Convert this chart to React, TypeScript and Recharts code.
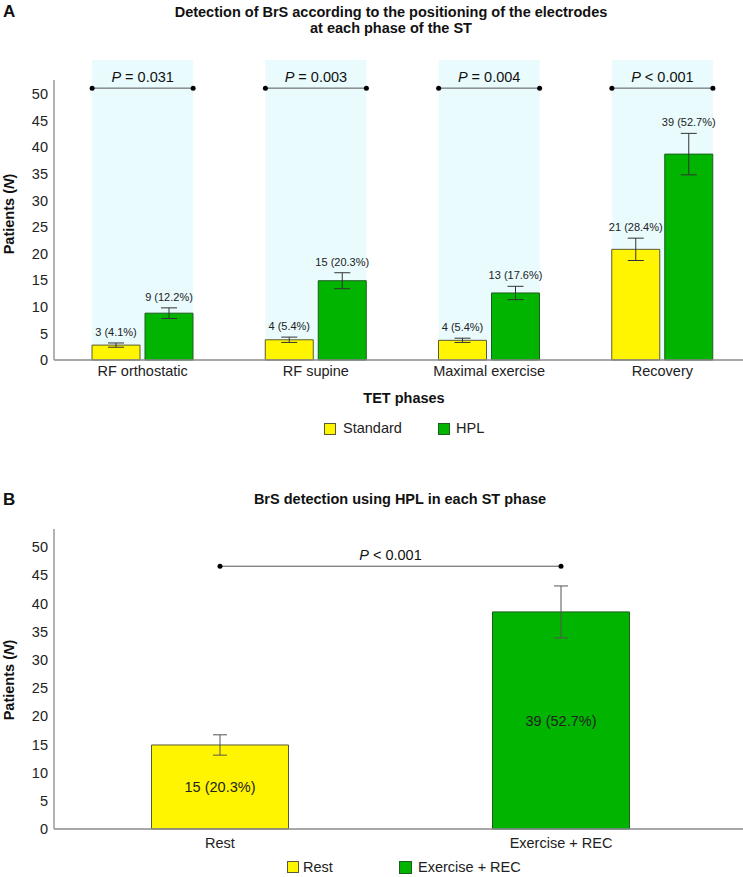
import React from "react"
import { Bar, BarChart, Cell, ErrorBar, LabelList, Legend, ReferenceArea, ReferenceLine, XAxis, YAxis } from "recharts"

const FONT = '"Liberation Sans", Arial, Helvetica, sans-serif'

// Panel A: detection per phase, standard vs HPL electrodes
const phases = ["RF orthostatic", "RF supine", "Maximal exercise", "Recovery"]
const standardN = [2.8, 3.8, 3.7, 20.8]
const standardErr = [0.4, 0.5, 0.4, 2.1]
const standardLabels = ["3 (4.1%)", "4 (5.4%)", "4 (5.4%)", "21 (28.4%)"]
const hplN = [8.8, 14.9, 12.6, 38.7]
const hplErr = [1.0, 1.5, 1.25, 3.9]
const hplLabels = ["9 (12.2%)", "15 (20.3%)", "13 (17.6%)", "39 (52.7%)"]
const pValuesA = ["= 0.031", "= 0.003", "= 0.004", "< 0.001"]
const seriesA = ["Standard", "HPL"]
const ticks = [0, 5, 10, 15, 20, 25, 30, 35, 40, 45, 50]

// Panel B: HPL rest vs exercise + recovery
const groupsB = ["Rest", "Exercise + REC"]
const groupN = [14.9, 38.5]
const groupErr = [1.8, 4.6]
const groupLabels = ["15 (20.3%)", "39 (52.7%)"]
const pValueB = "< 0.001"

const YELLOW = "#FFF500"
const GREEN = "#00B400"
const YELLOW_EDGE = "#5c5a36"
const GREEN_EDGE = "#1d5e1d"
const BAND = "#E9FBFD"

const BAND_TOP = 56.4
const BRACKET_A = 51.1
const BRACKET_B = 46.6

const dataA = phases.map((phase, i) => ({
    phase,
    standard: standardN[i],
    standardErr: standardErr[i],
    hpl: hplN[i],
    hplErr: hplErr[i],
}))

const dataB = groupsB.map((group, i) => ({
    group,
    n: groupN[i],
    err: groupErr[i],
    label: groupLabels[i],
}))

const colorsB = [YELLOW, GREEN]
const edgesB = [YELLOW_EDGE, GREEN_EDGE]

function PhaseBand(props: any) {
    const { x, y, width, height, pText } = props
    const cx = x + width / 2
    const half = 50.5
    const by = y + height - (BRACKET_A / BAND_TOP) * height
    return (
        <g>
            <rect x={cx - half} y={y} width={half * 2} height={height} fill={BAND} />
            <line x1={cx - half} x2={cx + half} y1={by} y2={by} stroke="#555" strokeWidth={1} />
            <circle cx={cx - half} cy={by} r={2.5} fill="#000" />
            <circle cx={cx + half} cy={by} r={2.5} fill="#000" />
            <text x={cx} y={by - 6} textAnchor="middle" fontSize={14.5} fontFamily={FONT} fill="#111">
                <tspan fontStyle="italic">P</tspan> {pText}
            </text>
        </g>
    )
}

function BracketB(props: any) {
    const { x1, x2, y1 } = props
    return (
        <g>
            <line x1={x1} x2={x2} y1={y1} y2={y1} stroke="#555" strokeWidth={1} />
            <circle cx={x1} cy={y1} r={2.5} fill="#000" />
            <circle cx={x2} cy={y1} r={2.5} fill="#000" />
            <text x={(x1 + x2) / 2} y={y1 - 6} textAnchor="middle" fontSize={14.5} fontFamily={FONT} fill="#111">
                <tspan fontStyle="italic">P</tspan> {pValueB}
            </text>
        </g>
    )
}

const topLabel = (labels: string[], errs: number[]) => (props: any) => {
    const vb = props.viewBox || props
    const i = props.index
    const v = Number(props.value)
    if (i == null || !v) return null
    const h = Math.abs(vb.height)
    const yErr = vb.y - (errs[i] * h) / v
    return (
        <text x={vb.x + vb.width / 2} y={yErr - 7} textAnchor="middle" fontSize={11} fill="#222" fontFamily={FONT}>
            {labels[i]}
        </text>
    )
}

const Swatch = ({ left, top, size, fill, edge }: any) => (
    <div style={{ position: "absolute", left, top, width: size, height: size, background: fill, border: `1px solid ${edge}`, boxSizing: "border-box" }} />
)

const LegendA = () => (
    <div style={{ position: "relative", height: 30, fontFamily: FONT, fontSize: 14.5, lineHeight: "16px", color: "#222" }}>
        <Swatch left={324} top={8} size={12} fill={YELLOW} edge={YELLOW_EDGE} />
        <div style={{ position: "absolute", left: 343, top: 5 }}>{seriesA[0]}</div>
        <Swatch left={438} top={8} size={12} fill={GREEN} edge={GREEN_EDGE} />
        <div style={{ position: "absolute", left: 456, top: 5 }}>{seriesA[1]}</div>
    </div>
)

const LegendB = () => (
    <div style={{ position: "relative", height: 22, fontFamily: FONT, fontSize: 14.5, lineHeight: "16px", color: "#222" }}>
        <Swatch left={287} top={6} size={12} fill={YELLOW} edge={YELLOW_EDGE} />
        <div style={{ position: "absolute", left: 303, top: 4 }}>{groupsB[0]}</div>
        <Swatch left={399} top={6} size={13} fill={GREEN} edge={GREEN_EDGE} />
        <div style={{ position: "absolute", left: 418, top: 4 }}>{groupsB[1]}</div>
    </div>
)

const tickStyle = { fontSize: 14.5, fill: "#222", fontFamily: FONT }

export default function App() {
    return (
        <div style={{ position: "absolute", left: 0, top: 0, width: 743, height: 877, overflow: "hidden", background: "#fff", fontFamily: FONT }}>
            <svg width={743} height={877} style={{ position: "absolute", left: 0, top: 0 }} fontFamily={FONT}>
                <text x={3} y={17} fontSize={17} fontWeight="bold" fill="#111">A</text>
                <text x={391} y={17} textAnchor="middle" fontSize={14.5} fontWeight="bold" fill="#111">
                    Detection of BrS according to the positioning of the electrodes
                </text>
                <text x={391} y={33} textAnchor="middle" fontSize={14.5} fontWeight="bold" fill="#111">
                    at each phase of the ST
                </text>
                <text x={14} y={214} transform="rotate(-90 14 214)" textAnchor="middle" fontSize={14.5} fontWeight="bold" fill="#111">
                    Patients (<tspan fontStyle="italic">N</tspan>)
                </text>
                <text x={404} y={403} textAnchor="middle" fontSize={14.5} fontWeight="bold" fill="#111">TET phases</text>

                <text x={3} y={505} fontSize={17} fontWeight="bold" fill="#111">B</text>
                <text x={400} y={504} textAnchor="middle" fontSize={14.5} fontWeight="bold" fill="#111">
                    BrS detection using HPL in each ST phase
                </text>
                <text x={14} y={680} transform="rotate(-90 14 680)" textAnchor="middle" fontSize={14.5} fontWeight="bold" fill="#111">
                    Patients (<tspan fontStyle="italic">N</tspan>)
                </text>
            </svg>

            <div style={{ position: "absolute", left: 0, top: 0 }}>
                <BarChart width={749} height={445} data={dataA} margin={{ top: 80, right: 0, bottom: 0, left: 0 }} barSize={48} barGap={5}>
                    <XAxis
                        dataKey="phase"
                        height={55}
                        interval={0}
                        tickLine={false}
                        tickSize={0}
                        tickMargin={6}
                        padding={{ left: 2, right: 0 }}
                        axisLine={{ stroke: "#8a8a8a", strokeWidth: 1.5 }}
                        tick={tickStyle}
                    />
                    <YAxis
                        width={54}
                        domain={[0, 52.63]}
                        ticks={ticks}
                        tickLine={false}
                        tickSize={0}
                        tickMargin={6}
                        axisLine={{ stroke: "#9a9a9a", strokeWidth: 1.5 }}
                        tick={tickStyle}
                    />
                    {phases.map((phase, i) => (
                        <ReferenceArea
                            key={phase}
                            x1={phase}
                            x2={phase}
                            y1={0}
                            y2={BAND_TOP}
                            ifOverflow="visible"
                            shape={(p: any) => <PhaseBand {...p} pText={pValuesA[i]} />}
                        />
                    ))}
                    <Bar dataKey="standard" name={seriesA[0]} fill={YELLOW} stroke={YELLOW_EDGE} strokeWidth={1} isAnimationActive={false}>
                        <ErrorBar dataKey="standardErr" direction="y" width={8} stroke="#333" strokeWidth={1} />
                        <LabelList dataKey="standard" content={topLabel(standardLabels, standardErr)} />
                    </Bar>
                    <Bar dataKey="hpl" name={seriesA[1]} fill={GREEN} stroke={GREEN_EDGE} strokeWidth={1} isAnimationActive={false}>
                        <ErrorBar dataKey="hplErr" direction="y" width={8} stroke="#333" strokeWidth={1} />
                        <LabelList dataKey="hpl" content={topLabel(hplLabels, hplErr)} />
                    </Bar>
                    <Legend verticalAlign="bottom" wrapperStyle={{ left: 0, width: 749, height: 30 }} content={() => <LegendA />} />
                </BarChart>
            </div>

            <div style={{ position: "absolute", left: 0, top: 460 }}>
                <BarChart width={743} height={417} data={dataB} margin={{ top: 69, right: 0, bottom: 0, left: 0 }} barSize={137}>
                    <XAxis
                        dataKey="group"
                        height={26}
                        interval={0}
                        tickLine={false}
                        tickSize={0}
                        tickMargin={9}
                        padding={{ left: -4.5, right: 11.5 }}
                        axisLine={{ stroke: "#8a8a8a", strokeWidth: 1.5 }}
                        tick={tickStyle}
                    />
                    <YAxis
                        width={54}
                        domain={[0, 53.2]}
                        ticks={ticks}
                        tickLine={false}
                        tickSize={0}
                        tickMargin={6}
                        axisLine={{ stroke: "#9a9a9a", strokeWidth: 1.5 }}
                        tick={tickStyle}
                    />
                    <ReferenceLine
                        segment={[
                            { x: groupsB[0], y: BRACKET_B },
                            { x: groupsB[1], y: BRACKET_B },
                        ]}
                        ifOverflow="visible"
                        shape={(p: any) => <BracketB {...p} />}
                    />
                    <Bar dataKey="n" isAnimationActive={false} strokeWidth={1}>
                        {dataB.map((d, i) => (
                            <Cell key={d.group} fill={colorsB[i]} stroke={edgesB[i]} />
                        ))}
                        <ErrorBar dataKey="err" direction="y" width={7} stroke="#555" strokeWidth={1} />
                        <LabelList dataKey="label" position="center" fontSize={14.5} fill="#222" fontFamily={FONT} />
                    </Bar>
                    <Legend verticalAlign="bottom" wrapperStyle={{ left: 0, width: 743, height: 22 }} content={() => <LegendB />} />
                </BarChart>
            </div>
        </div>
    )
}
